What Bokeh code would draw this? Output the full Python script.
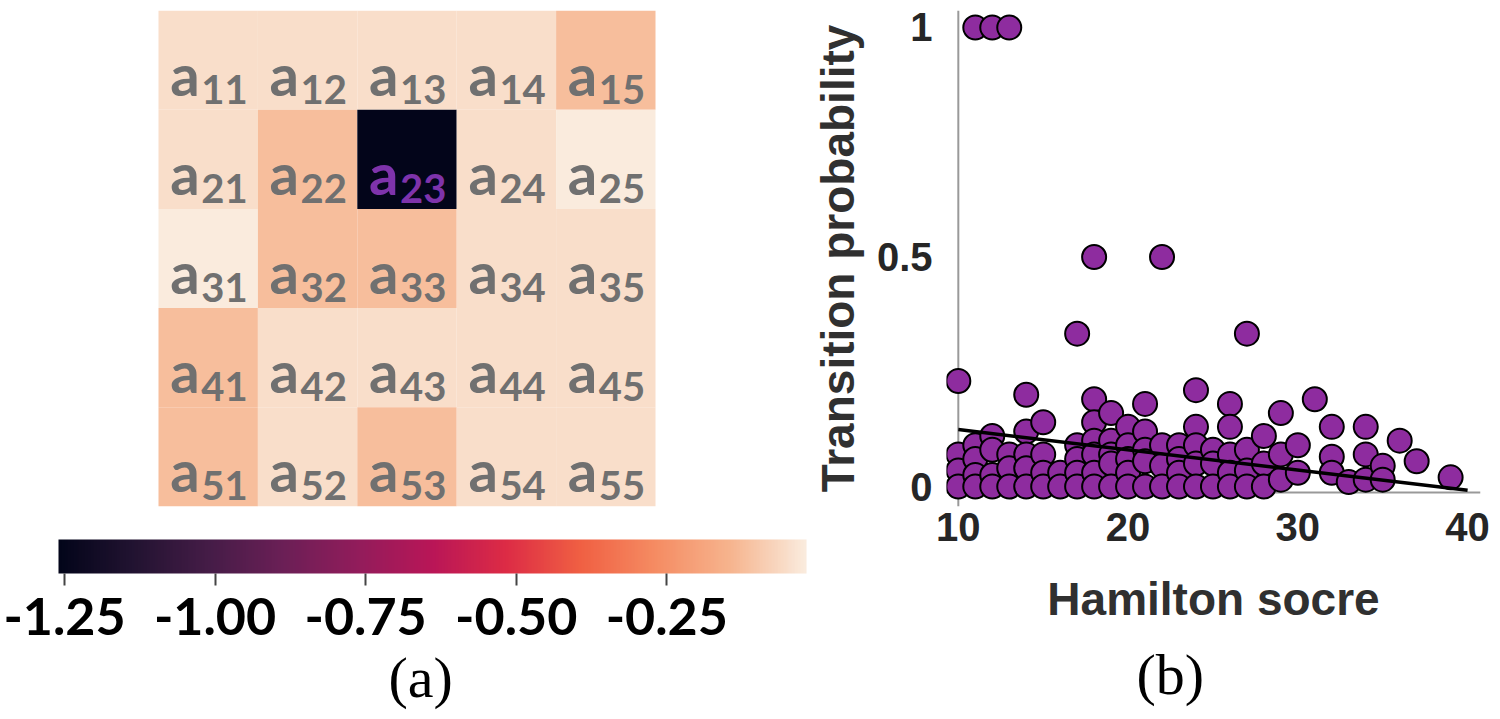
from bokeh.plotting import figure
from bokeh.layouts import row
from bokeh.models import (ColumnDataSource, LinearColorMapper, ColorBar, FixedTicker,
                          PrintfTickFormatter, Span, Title)
from bokeh.core.properties import value
from bokeh.embed import file_html
from bokeh.resources import INLINE

# ---------------- data: panel (a) ----------------
row_idx = [1, 1, 1, 1, 1, 2, 2, 2, 2, 2, 3, 3, 3, 3, 3, 4, 4, 4, 4, 4, 5, 5, 5, 5, 5]
col_idx = [1, 2, 3, 4, 5] * 5
coef_values = [
    -0.05, -0.05, -0.05, -0.05, -0.12,
    -0.05, -0.12, -1.26, -0.05, -0.02,
    -0.02, -0.12, -0.12, -0.05, -0.05,
    -0.12, -0.05, -0.05, -0.05, -0.05,
    -0.12, -0.05, -0.12, -0.05, -0.05,
]
highlight_cell = "23"
cbar_ticks = [-1.25, -1.00, -0.75, -0.50, -0.25]
cbar_low, cbar_high = -1.26, -0.018

# ---------------- data: panel (b) ----------------
hamilton = [
    10, 10, 10, 10,
    11, 11, 11, 11, 11,
    12, 12, 12, 12, 12,
    13, 13, 13, 13,
    14, 14, 14, 14, 14,
    15, 15, 15, 15,
    16, 16,
    17, 17, 17, 17, 17,
    18, 18, 18, 18, 18, 18, 18,
    19, 19, 19, 19, 19,
    20, 20, 20, 20, 20,
    21, 21, 21, 21, 21,
    22, 22, 22, 22,
    23, 23, 23, 23,
    24, 24, 24, 24, 24,
    25, 25, 25,
    26, 26, 26, 26, 26,
    27, 27, 27, 27,
    28, 28, 28,
    29, 29, 29,
    30, 30,
    31,
    32, 32, 32,
    33,
    34, 34, 34,
    35, 35,
    36,
    37,
    39,
]
probability = [
    0.23, 0.07, 0.035, 0.0,
    1.0, 0.09, 0.06, 0.025, 0.0,
    1.0, 0.11, 0.08, 0.025, 0.0,
    1.0, 0.07, 0.04, 0.0,
    0.2, 0.12, 0.07, 0.04, 0.0,
    0.14, 0.07, 0.03, 0.0,
    0.03, 0.0,
    0.333, 0.09, 0.06, 0.03, 0.0,
    0.5, 0.19, 0.14, 0.1, 0.07, 0.03, 0.0,
    0.16, 0.1, 0.07, 0.05, 0.0,
    0.13, 0.09, 0.06, 0.03, 0.0,
    0.18, 0.12, 0.08, 0.055, 0.0,
    0.5, 0.09, 0.045, 0.0,
    0.09, 0.06, 0.03, 0.0,
    0.21, 0.13, 0.09, 0.05, 0.0,
    0.08, 0.05, 0.0,
    0.18, 0.13, 0.07, 0.03, 0.0,
    0.333, 0.08, 0.035, 0.0,
    0.11, 0.05, 0.0,
    0.16, 0.07, 0.015,
    0.09, 0.03,
    0.19,
    0.13, 0.065, 0.03,
    0.01,
    0.13, 0.07, 0.015,
    0.045, 0.015,
    0.1,
    0.055,
    0.02,
]
fit_hamilton = [10, 40]
fit_probability = [0.124, -0.008]
x_ticks = [10, 20, 30, 40]
y_ticks = [0, 0.5, 1]

# ---------------- rocket-like palette ----------------
anchors = [(0.0, "#03051a"), (0.1, "#221331"), (0.2, "#451c47"), (0.3, "#6b1f56"),
           (0.4, "#921c5b"), (0.5, "#b91657"), (0.6, "#dd2c45"), (0.7, "#f06043"),
           (0.8, "#f58c63"), (0.9, "#f6b48e"), (1.0, "#faebdd")]


def _hex(c):
    return [int(c[i:i + 2], 16) for i in (1, 3, 5)]


rocket = []
for k in range(256):
    t = k / 255
    for (t0, c0), (t1, c1) in zip(anchors[:-1], anchors[1:]):
        if t0 <= t <= t1:
            f = (t - t0) / (t1 - t0)
            a, b = _hex(c0), _hex(c1)
            rgb = [round(a[i] + f * (b[i] - a[i])) for i in range(3)]
            rocket.append("#%02x%02x%02x" % tuple(rgb))
            break

H = 719
BOTTOM = 212

# ---------------- panel (a): heatmap ----------------
mapper = LinearColorMapper(palette=rocket, low=cbar_low, high=cbar_high)

cells = ColumnDataSource(dict(
    x=[c - 0.5 for c in col_idx],
    y=[5.5 - r for r in row_idx],
    v=coef_values,
    sub=[f"{r}{c}" for r, c in zip(row_idx, col_idx)],
    tc=["#7e33ab" if f"{r}{c}" == highlight_cell else "#707070" for r, c in zip(row_idx, col_idx)],
))

p1 = figure(width=808, height=H, x_range=(-1.006, 6.519), y_range=(0, 5),
            output_backend="svg", toolbar_location=None,
            x_axis_location=None, y_axis_location=None,
            min_border_left=58, min_border_right=2, min_border_top=10, min_border_bottom=BOTTOM)
p1.grid.visible = False
p1.outline_line_color = None

p1.rect(x="x", y="y", width=1, height=1, source=cells,
        fill_color={"field": "v", "transform": mapper}, line_color=None)
p1.text(x="x", y="y", text=value("a"), source=cells, text_color="tc",
        text_font=value("Lato"), text_font_style="bold", text_font_size="58px",
        text_align="left", text_baseline="alphabetic", x_offset=-38, y_offset=13)
p1.text(x="x", y="y", text="sub", source=cells, text_color="tc",
        text_font=value("Lato"), text_font_style="bold", text_font_size="40px",
        text_align="left", text_baseline="alphabetic", x_offset=-7, y_offset=29)

cb = ColorBar(color_mapper=mapper, orientation="horizontal",
              height=34, padding=0,
              title=" ", title_text_font_size="24px", title_standoff=4,
              ticker=FixedTicker(ticks=cbar_ticks), formatter=PrintfTickFormatter(format="%.2f"),
              major_label_text_font="Lato", major_label_text_font_style="bold",
              major_label_text_font_size="52px", major_label_text_color="black",
              label_standoff=12, major_tick_in=0, major_tick_out=12,
              major_tick_line_color="#444444", major_tick_line_width=2,
              minor_tick_line_color=None, bar_line_color=None,
              border_line_color=None, background_fill_alpha=0)
p1.add_layout(cb, "below")
p1.add_layout(Title(text="(a)", align="left", offset=330, standoff=10,
                    text_font="Liberation Serif", text_font_size="58px",
                    text_font_style="normal", text_color="black"), "below")

# ---------------- panel (b): scatter ----------------
p2 = figure(width=692, height=H, x_range=(9.304, 40.76), y_range=(-0.0435, 1.037),
            output_backend="svg", toolbar_location=None,
            min_border_left=130, min_border_right=20, min_border_top=10, min_border_bottom=BOTTOM)
p2.grid.visible = False
p2.outline_line_color = None

for ax in (p2.xaxis, p2.yaxis):
    ax.axis_line_color = None
    ax.major_tick_line_color = None
    ax.minor_tick_line_color = None
    ax.major_label_text_font = "Liberation Sans"
    ax.major_label_text_font_style = "bold"
    ax.major_label_text_font_size = "40px"
    ax.major_label_text_color = "#262626"
    ax.axis_label_text_font = "Liberation Sans"
    ax.axis_label_text_font_style = "bold"
    ax.axis_label_text_font_size = "46px"
    ax.axis_label_text_color = "#303030"

p2.xaxis.ticker = FixedTicker(ticks=x_ticks)
p2.yaxis.ticker = FixedTicker(ticks=y_ticks)
p2.yaxis.major_label_overrides = {0: "0", 0.5: "0.5", 1: "1"}
p2.xaxis.major_label_standoff = 0
p2.yaxis.major_label_standoff = 8
p2.xaxis.axis_label = "Hamilton socre"
p2.yaxis.axis_label = "Transition probability"
p2.xaxis.axis_label_standoff = 29
p2.yaxis.axis_label_standoff = 10

p2.add_layout(Span(location=10, dimension="height", line_color="#999999", line_width=2,
                   level="underlay"))
p2.add_layout(Span(location=-0.013, dimension="width", line_color="#999999", line_width=2,
                   level="underlay"))

p2.scatter(hamilton, probability, size=24, fill_color="#8e2c9f", line_color="black",
           line_width=2)
p2.line(fit_hamilton, fit_probability, line_color="black", line_width=3.5)

p2.add_layout(Title(text="(b)", align="left", offset=190, standoff=25,
                    text_font="Liberation Serif", text_font_size="58px",
                    text_font_style="normal", text_color="black"), "below")

layout = row(p1, p2)
open("out.html", "w").write(file_html(layout, INLINE))
